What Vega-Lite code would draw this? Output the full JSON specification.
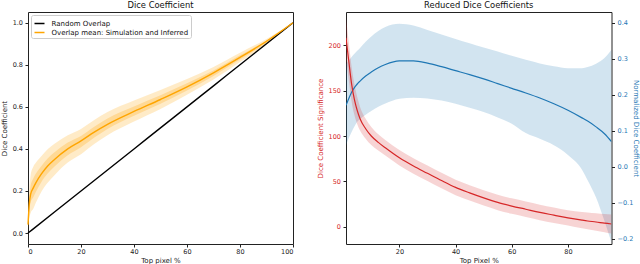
{
  "$schema": "https://vega.github.io/schema/vega-lite/v6.json",
  "padding": {"left": 0, "top": 0, "right": 0, "bottom": 0},
  "background": "white",
  "config": {
    "font": "DejaVu Sans",
    "view": {"stroke": "#222222", "strokeWidth": 1},
    "axis": {"grid": false, "domain": false, "labelFontSize": 6.5, "titleFontSize": 7, "titleFontWeight": "normal", "tickSize": 3, "tickColor": "#222222", "labelColor": "#222222", "titleColor": "#222222", "labelPadding": 1.5, "titlePadding": 1.5},
    "axisY": {"labelPadding": 2.5},
    "title": {"fontSize": 8.4, "fontWeight": "normal", "color": "#111111", "offset": 2.5, "anchor": "middle"}
  },
  "datasets": {
    "dice_bands": [
      {"x": 0, "lo2": 0.01, "hi2": 0.07, "lo1": 0.025, "hi1": 0.055},
      {"x": 0.5, "lo2": 0.07, "hi2": 0.21, "lo1": 0.11, "hi1": 0.17},
      {"x": 1, "lo2": 0.095, "hi2": 0.275, "lo1": 0.145, "hi1": 0.225},
      {"x": 2, "lo2": 0.115, "hi2": 0.315, "lo1": 0.17, "hi1": 0.26},
      {"x": 3, "lo2": 0.145, "hi2": 0.335, "lo1": 0.197, "hi1": 0.283},
      {"x": 5, "lo2": 0.195, "hi2": 0.365, "lo1": 0.242, "hi1": 0.318},
      {"x": 7.5, "lo2": 0.24, "hi2": 0.40, "lo1": 0.284, "hi1": 0.356},
      {"x": 10, "lo2": 0.275, "hi2": 0.425, "lo1": 0.316, "hi1": 0.384},
      {"x": 15, "lo2": 0.335, "hi2": 0.465, "lo1": 0.37, "hi1": 0.43},
      {"x": 20, "lo2": 0.375, "hi2": 0.495, "lo1": 0.408, "hi1": 0.462},
      {"x": 25, "lo2": 0.423, "hi2": 0.537, "lo1": 0.454, "hi1": 0.506},
      {"x": 30, "lo2": 0.465, "hi2": 0.575, "lo1": 0.495, "hi1": 0.545},
      {"x": 40, "lo2": 0.53, "hi2": 0.63, "lo1": 0.558, "hi1": 0.602},
      {"x": 50, "lo2": 0.59, "hi2": 0.68, "lo1": 0.615, "hi1": 0.655},
      {"x": 60, "lo2": 0.658, "hi2": 0.732, "lo1": 0.678, "hi1": 0.712},
      {"x": 70, "lo2": 0.73, "hi2": 0.79, "lo1": 0.747, "hi1": 0.773},
      {"x": 80, "lo2": 0.813, "hi2": 0.857, "lo1": 0.825, "hi1": 0.845},
      {"x": 90, "lo2": 0.897, "hi2": 0.923, "lo1": 0.904, "hi1": 0.916},
      {"x": 100, "lo2": 1.0, "hi2": 1.0, "lo1": 1.0, "hi1": 1.0}
    ],
    "dice_lines": [
      {"series": "Random Overlap", "x": 0, "y": 0},
      {"series": "Random Overlap", "x": 10, "y": 0.1},
      {"series": "Random Overlap", "x": 20, "y": 0.2},
      {"series": "Random Overlap", "x": 30, "y": 0.3},
      {"series": "Random Overlap", "x": 40, "y": 0.4},
      {"series": "Random Overlap", "x": 50, "y": 0.5},
      {"series": "Random Overlap", "x": 60, "y": 0.6},
      {"series": "Random Overlap", "x": 70, "y": 0.7},
      {"series": "Random Overlap", "x": 80, "y": 0.8},
      {"series": "Random Overlap", "x": 90, "y": 0.9},
      {"series": "Random Overlap", "x": 100, "y": 1.0},
      {"series": "Overlap mean: Simulation and Inferred", "x": 0, "y": 0.04},
      {"series": "Overlap mean: Simulation and Inferred", "x": 0.5, "y": 0.14},
      {"series": "Overlap mean: Simulation and Inferred", "x": 1, "y": 0.185},
      {"series": "Overlap mean: Simulation and Inferred", "x": 2, "y": 0.215},
      {"series": "Overlap mean: Simulation and Inferred", "x": 3, "y": 0.24},
      {"series": "Overlap mean: Simulation and Inferred", "x": 5, "y": 0.28},
      {"series": "Overlap mean: Simulation and Inferred", "x": 7.5, "y": 0.32},
      {"series": "Overlap mean: Simulation and Inferred", "x": 10, "y": 0.35},
      {"series": "Overlap mean: Simulation and Inferred", "x": 15, "y": 0.40},
      {"series": "Overlap mean: Simulation and Inferred", "x": 20, "y": 0.438},
      {"series": "Overlap mean: Simulation and Inferred", "x": 25, "y": 0.48},
      {"series": "Overlap mean: Simulation and Inferred", "x": 30, "y": 0.517},
      {"series": "Overlap mean: Simulation and Inferred", "x": 40, "y": 0.578},
      {"series": "Overlap mean: Simulation and Inferred", "x": 50, "y": 0.635},
      {"series": "Overlap mean: Simulation and Inferred", "x": 60, "y": 0.695},
      {"series": "Overlap mean: Simulation and Inferred", "x": 70, "y": 0.762},
      {"series": "Overlap mean: Simulation and Inferred", "x": 80, "y": 0.835},
      {"series": "Overlap mean: Simulation and Inferred", "x": 90, "y": 0.912},
      {"series": "Overlap mean: Simulation and Inferred", "x": 100, "y": 1.0}
    ],
    "reduced": [
      {"x": 1, "red": 208, "rlo": 186, "rhi": 230, "blue": 0.171, "blo": 0.06, "bhi": 0.285},
      {"x": 2, "red": 182, "rlo": 161, "rhi": 203, "blue": 0.19, "blo": 0.08, "bhi": 0.295},
      {"x": 3, "red": 157, "rlo": 138, "rhi": 176, "blue": 0.207, "blo": 0.097, "bhi": 0.305},
      {"x": 4, "red": 140, "rlo": 123, "rhi": 157, "blue": 0.22, "blo": 0.112, "bhi": 0.314},
      {"x": 5, "red": 128, "rlo": 113, "rhi": 143, "blue": 0.23, "blo": 0.125, "bhi": 0.322},
      {"x": 6, "red": 119, "rlo": 106, "rhi": 132, "blue": 0.238, "blo": 0.133, "bhi": 0.33},
      {"x": 8, "red": 108, "rlo": 97, "rhi": 119, "blue": 0.252, "blo": 0.145, "bhi": 0.347},
      {"x": 10, "red": 100, "rlo": 90, "rhi": 110, "blue": 0.263, "blo": 0.155, "bhi": 0.362},
      {"x": 12.5, "red": 93, "rlo": 84, "rhi": 102, "blue": 0.275, "blo": 0.167, "bhi": 0.377},
      {"x": 15, "red": 87, "rlo": 78.5, "rhi": 95.5, "blue": 0.284, "blo": 0.176, "bhi": 0.388},
      {"x": 20, "red": 76, "rlo": 67.5, "rhi": 84.5, "blue": 0.294, "blo": 0.189, "bhi": 0.397},
      {"x": 25, "red": 67, "rlo": 58.5, "rhi": 75.5, "blue": 0.294, "blo": 0.192, "bhi": 0.392},
      {"x": 30, "red": 59, "rlo": 50.5, "rhi": 67.5, "blue": 0.288, "blo": 0.19, "bhi": 0.38},
      {"x": 35, "red": 51, "rlo": 42.5, "rhi": 59.5, "blue": 0.278, "blo": 0.184, "bhi": 0.367},
      {"x": 40, "red": 43.5, "rlo": 35, "rhi": 52, "blue": 0.267, "blo": 0.175, "bhi": 0.355},
      {"x": 45, "red": 37.5, "rlo": 29, "rhi": 46, "blue": 0.256, "blo": 0.164, "bhi": 0.343},
      {"x": 50, "red": 32, "rlo": 23.5, "rhi": 40.5, "blue": 0.244, "blo": 0.152, "bhi": 0.331},
      {"x": 55, "red": 27, "rlo": 18.5, "rhi": 35.5, "blue": 0.231, "blo": 0.137, "bhi": 0.32},
      {"x": 60, "red": 23, "rlo": 14.5, "rhi": 31.5, "blue": 0.218, "blo": 0.12, "bhi": 0.308},
      {"x": 65, "red": 19.5, "rlo": 11, "rhi": 28, "blue": 0.205, "blo": 0.094, "bhi": 0.297},
      {"x": 70, "red": 16, "rlo": 7.5, "rhi": 24.5, "blue": 0.191, "blo": 0.078, "bhi": 0.287},
      {"x": 75, "red": 13, "rlo": 4.5, "rhi": 21.5, "blue": 0.175, "blo": 0.06, "bhi": 0.279},
      {"x": 80, "red": 10, "rlo": 1.5, "rhi": 18.5, "blue": 0.157, "blo": 0.033, "bhi": 0.274},
      {"x": 85, "red": 7.5, "rlo": -1.5, "rhi": 16.5, "blue": 0.136, "blo": -0.008, "bhi": 0.274},
      {"x": 87, "red": 6.6, "rlo": -2.6, "rhi": 15.8, "blue": 0.127, "blo": -0.037, "bhi": 0.277},
      {"x": 90, "red": 5.5, "rlo": -4, "rhi": 15, "blue": 0.111, "blo": -0.085, "bhi": 0.286},
      {"x": 93, "red": 4.2, "rlo": -5.8, "rhi": 14.2, "blue": 0.092, "blo": -0.15, "bhi": 0.302},
      {"x": 95.5, "red": 3.3, "rlo": -7.2, "rhi": 13.8, "blue": 0.07, "blo": -0.21, "bhi": 0.325}
    ]
  },
  "spacing": 53,
  "bounds": "flush",
  "hconcat": [
    {
      "title": "Dice Coefficient",
      "width": 265,
      "height": 232,
      "layer": [
        {
          "data": {"name": "dice_bands"},
          "mark": {"type": "area", "color": "#ffa500", "opacity": 0.22, "interpolate": "monotone"},
          "encoding": {
            "x": {"field": "x", "type": "quantitative", "scale": {"domain": [0, 100], "nice": false, "zero": false}, "axis": {"title": "Top pixel %", "values": [0, 20, 40, 60, 80, 100], "format": "d"}},
            "y": {"field": "lo2", "type": "quantitative", "scale": {"domain": [-0.052, 1.051], "nice": false, "zero": false}, "axis": {"title": "Dice Coefficient", "values": [0, 0.2, 0.4, 0.6, 0.8, 1.0], "format": ".1f", "titleX": -23.5, "titleBaseline": "middle"}},
            "y2": {"field": "hi2"}
          }
        },
        {
          "data": {"name": "dice_bands"},
          "mark": {"type": "area", "color": "#ffa500", "opacity": 0.25, "interpolate": "monotone"},
          "encoding": {
            "x": {"field": "x", "type": "quantitative", "axis": {"title": "Top pixel %", "values": [0, 20, 40, 60, 80, 100], "format": "d"}},
            "y": {"field": "lo1", "type": "quantitative", "axis": {"title": "Dice Coefficient", "values": [0, 0.2, 0.4, 0.6, 0.8, 1.0], "format": ".1f", "titleX": -23.5, "titleBaseline": "middle"}},
            "y2": {"field": "hi1"}
          }
        },
        {
          "data": {"name": "dice_lines"},
          "mark": {"type": "line", "strokeWidth": 1.4, "interpolate": "monotone"},
          "encoding": {
            "x": {"field": "x", "type": "quantitative", "axis": {"title": "Top pixel %", "values": [0, 20, 40, 60, 80, 100], "format": "d"}},
            "y": {"field": "y", "type": "quantitative", "axis": {"title": "Dice Coefficient", "values": [0, 0.2, 0.4, 0.6, 0.8, 1.0], "format": ".1f", "titleX": -23.5, "titleBaseline": "middle"}},
            "color": {
              "field": "series", "type": "nominal",
              "scale": {"domain": ["Random Overlap", "Overlap mean: Simulation and Inferred"], "range": ["#000000", "#ffa500"]},
              "legend": {"title": null, "orient": "top-left", "offset": 3, "padding": 2.5, "strokeColor": "#cccccc", "fillColor": "white", "cornerRadius": 2, "labelFontSize": 7, "labelColor": "#111111", "symbolType": "stroke", "symbolSize": 100, "symbolStrokeWidth": 1.5, "rowPadding": 0, "labelOffset": 6}
            }
          }
        }
      ]
    },
    {
      "title": "Reduced Dice Coefficients",
      "width": 265.5,
      "height": 232,
      "data": {"name": "reduced"},
      "resolve": {"scale": {"y": "independent"}},
      "layer": [
        {
          "mark": {"type": "area", "color": "#1f77b4", "opacity": 0.2, "clip": true, "interpolate": "monotone"},
          "encoding": {
            "x": {"field": "x", "type": "quantitative", "scale": {"domain": [1, 95.5], "nice": false, "zero": false}, "axis": {"title": "Top Pixel %", "values": [20, 40, 60, 80], "format": "d"}},
            "y": {"field": "blo", "type": "quantitative", "scale": {"domain": [-0.2139, 0.4297], "nice": false, "zero": false}, "axis": null},
            "y2": {"field": "bhi"}
          }
        },
        {
          "mark": {"type": "area", "color": "#d62728", "opacity": 0.2, "clip": true, "interpolate": "monotone"},
          "encoding": {
            "x": {"field": "x", "type": "quantitative"},
            "y": {"field": "rlo", "type": "quantitative", "scale": {"domain": [-18.7, 236.3], "nice": false, "zero": false}, "axis": null},
            "y2": {"field": "rhi"}
          }
        },
        {
          "mark": {"type": "line", "color": "#1f77b4", "strokeWidth": 1.2, "clip": true, "interpolate": "monotone"},
          "encoding": {
            "x": {"field": "x", "type": "quantitative"},
            "y": {"field": "blue", "type": "quantitative", "scale": {"domain": [-0.2139, 0.4297], "nice": false, "zero": false}, "axis": {"orient": "right", "title": "Normalized Dice Coefficient", "values": [-0.2, -0.1, 0, 0.1, 0.2, 0.3, 0.4], "format": ".1f", "labelColor": "#1f77b4", "titleColor": "#1f77b4", "titleX": 24, "titleBaseline": "middle"}}
          }
        },
        {
          "mark": {"type": "line", "color": "#d62728", "strokeWidth": 1.2, "clip": true, "interpolate": "monotone"},
          "encoding": {
            "x": {"field": "x", "type": "quantitative"},
            "y": {"field": "red", "type": "quantitative", "scale": {"domain": [-18.7, 236.3], "nice": false, "zero": false}, "axis": {"orient": "left", "title": "Dice Coefficient Significance", "values": [0, 50, 100, 150, 200], "format": "d", "labelColor": "#d62728", "titleColor": "#d62728", "titleX": -25.5, "titleBaseline": "middle"}}
          }
        }
      ]
    }
  ]
}
